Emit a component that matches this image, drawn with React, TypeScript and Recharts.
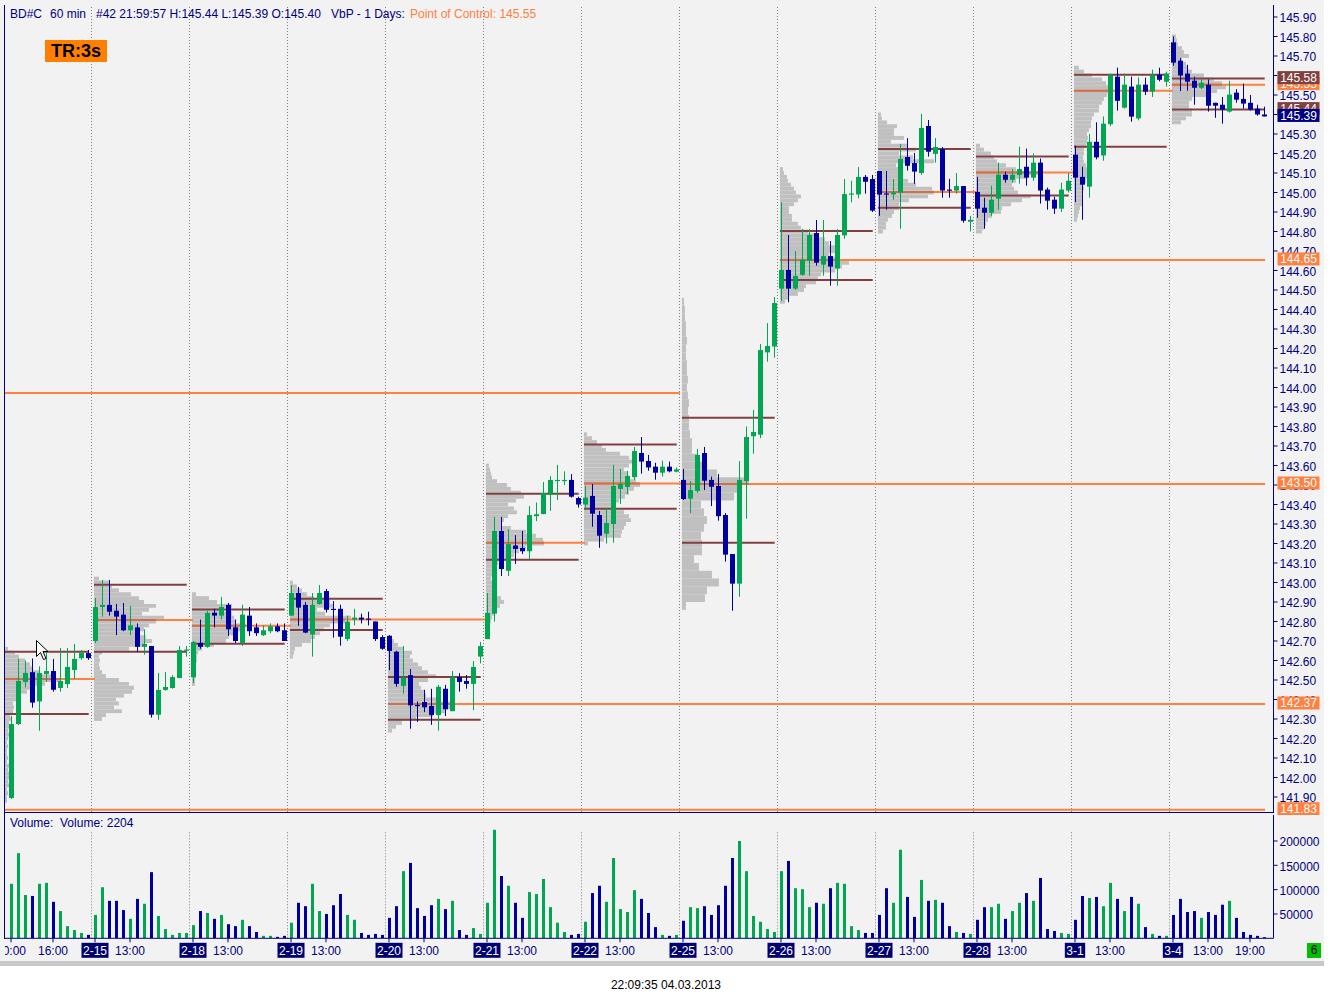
import React from 'react';
import { ComposedChart, Bar, XAxis, YAxis, ReferenceLine, ReferenceArea } from 'recharts';

const FONT = '"Liberation Sans", Arial, sans-serif';
const NAVY = '#000080';
const BOXNAVY = '#000070';
const GREEN = '#00A651';
const BLUE = '#0000A0';
const BROWN = '#804040';
const ORANGE = '#FF8040';
const POC_IN_PROFILE = '#D0704A';
const PROFILE = '#C0C0C0';
const BG = '#F2F2F2';

// ---------------- data ----------------
const dayLabels = ['2-14', '2-15', '2-18', '2-19', '2-20', '2-21', '2-22', '2-25', '2-26', '2-27', '2-28', '3-1', '3-4'];
const dayFirstHour = [10, 8, 8, 8, 8, 8, 8, 8, 8, 8, 8, 8, 8];
const dayBarCount = [12, 14, 14, 14, 14, 14, 14, 14, 14, 14, 14, 14, 14];

const opens = [
  141.895, 142.274, 142.49, 142.54, 142.39, 142.531, 142.546, 142.459, 142.479, 142.551, 142.612, 142.638,
  142.70, 142.874, 142.885, 142.855, 142.835, 142.755, 142.77, 142.67, 142.674, 142.322, 142.449, 142.459, 142.51, 142.65,
  142.514, 142.69, 142.67, 142.845, 142.83, 142.885, 142.77, 142.69, 142.83, 142.77, 142.73, 142.75, 142.775, 142.755,
  142.83, 142.946, 142.885, 142.733, 142.89, 142.956, 142.865, 142.865, 142.71, 142.81, 142.82, 142.815, 142.80, 142.72,
  142.726, 142.645, 142.47, 142.525, 142.372, 142.387, 142.367, 142.32, 142.455, 142.34, 142.515, 142.495, 142.48, 142.62,
  142.71, 142.84, 143.264, 143.06, 143.19, 143.177, 143.16, 143.34, 143.351, 143.45, 143.52, 143.52, 143.526, 143.433,
  143.40, 143.444, 143.346, 143.25, 143.30, 143.48, 143.49, 143.54, 143.664, 143.623, 143.594, 143.563, 143.594, 143.568,
  143.526, 143.43, 143.47, 143.664, 143.526, 143.495, 143.346, 143.146, 142.994, 143.52, 143.75, 143.758, 144.18, 144.21,
  144.507, 144.603, 144.507, 144.578, 144.65, 144.792, 144.63, 144.674, 144.61, 144.78, 144.99, 144.99, 145.08, 145.069,
  145.11, 144.995, 144.99, 145.0, 145.182, 145.151, 145.10, 145.341, 145.198, 145.223, 145.015, 145.01, 145.033, 144.85,
  145.003, 144.922, 144.896, 144.968, 145.091, 145.065, 145.09, 145.132, 145.076, 145.153, 145.015, 144.963, 144.917, 145.01,
  145.194, 145.08, 145.03, 145.26, 145.19, 145.35, 145.594, 145.435, 145.543, 145.38, 145.553, 145.517, 145.604, 145.568,
  145.77, 145.676, 145.61, 145.573, 145.537, 145.553, 145.46, 145.45, 145.415, 145.512, 145.48, 145.46, 145.43, 145.40,
];
const highs = [
  142.315, 142.61, 142.60, 142.61, 142.57, 142.65, 142.608, 142.664, 142.664, 142.685, 142.654, 142.654,
  142.92, 143.013, 143.013, 142.89, 142.895, 142.88, 142.79, 142.76, 142.675, 142.536, 142.54, 142.525, 142.674, 142.674,
  142.70, 142.81, 142.854, 142.865, 142.926, 142.895, 142.81, 142.886, 142.874, 142.79, 142.78, 142.79, 142.79, 142.79,
  142.987, 142.977, 142.90, 142.946, 142.987, 142.967, 142.905, 142.886, 142.83, 142.865, 142.84, 142.85, 142.80, 142.73,
  142.73, 142.65, 142.674, 142.556, 142.39, 142.45, 142.455, 142.475, 142.475, 142.546, 142.535, 142.525, 142.597, 142.695,
  142.946, 143.336, 143.336, 143.274, 143.243, 143.264, 143.392, 143.41, 143.515, 143.546, 143.603, 143.57, 143.556, 143.44,
  143.495, 143.505, 143.367, 143.382, 143.603, 143.582, 143.572, 143.695, 143.746, 143.654, 143.614, 143.625, 143.62, 143.59,
  143.582, 143.52, 143.685, 143.695, 143.543, 143.556, 143.356, 143.146, 143.623, 143.80, 143.885, 144.223, 144.33, 144.464,
  144.95, 144.782, 144.70, 144.813, 144.813, 144.859, 144.859, 144.751, 144.813, 145.069, 145.06, 145.13, 145.09, 145.09,
  145.11, 145.11, 145.069, 145.249, 145.279, 145.203, 145.403, 145.372, 145.279, 145.233, 145.07, 145.10, 145.033, 144.88,
  145.08, 144.973, 145.035, 145.153, 145.107, 145.12, 145.235, 145.225, 145.20, 145.174, 145.025, 144.978, 145.05, 145.10,
  145.24, 145.132, 145.30, 145.36, 145.39, 145.61, 145.64, 145.61, 145.594, 145.59, 145.589, 145.63, 145.64, 145.62,
  145.80, 145.69, 145.655, 145.594, 145.58, 145.58, 145.46, 145.49, 145.573, 145.53, 145.558, 145.50, 145.45, 145.44,
];
const lows = [
  141.89, 142.269, 142.463, 142.358, 142.24, 142.49, 142.44, 142.44, 142.459, 142.505, 142.603, 142.603,
  142.69, 142.825, 142.83, 142.73, 142.75, 142.73, 142.645, 142.63, 142.307, 142.296, 142.445, 142.455, 142.51, 142.62,
  142.485, 142.66, 142.665, 142.77, 142.81, 142.726, 142.69, 142.674, 142.726, 142.726, 142.726, 142.74, 142.745, 142.70,
  142.83, 142.778, 142.74, 142.62, 142.886, 142.846, 142.717, 142.676, 142.70, 142.78, 142.79, 142.78, 142.70, 142.655,
  142.55, 142.465, 142.43, 142.25, 142.285, 142.335, 142.27, 142.24, 142.315, 142.34, 142.44, 142.455, 142.345, 142.585,
  142.71, 142.80, 143.033, 143.033, 143.095, 143.146, 143.12, 143.315, 143.35, 143.367, 143.423, 143.50, 143.435, 143.384,
  143.37, 143.286, 143.178, 143.20, 143.204, 143.403, 143.454, 143.526, 143.558, 143.573, 143.527, 143.543, 143.565, 143.565,
  143.423, 143.356, 143.46, 143.474, 143.392, 143.317, 143.107, 142.855, 142.927, 143.327, 143.66, 143.74, 144.132, 144.153,
  144.444, 144.437, 144.50, 144.573, 144.573, 144.625, 144.573, 144.522, 144.522, 144.763, 144.95, 144.97, 144.994, 144.90,
  144.88, 144.912, 144.963, 144.814, 145.112, 145.045, 145.09, 145.184, 145.153, 144.973, 144.973, 144.994, 144.845, 144.80,
  144.87, 144.814, 144.88, 144.912, 145.05, 145.05, 145.045, 145.035, 145.06, 144.943, 144.912, 144.89, 144.90, 145.0,
  144.95, 144.86, 144.973, 145.17, 145.163, 145.34, 145.42, 145.43, 145.363, 145.37, 145.50, 145.49, 145.57, 145.543,
  145.65, 145.52, 145.522, 145.45, 145.53, 145.415, 145.383, 145.353, 145.41, 145.46, 145.43, 145.42, 145.394, 145.39,
];
const closes = [
  142.274, 142.495, 142.536, 142.384, 142.536, 142.546, 142.45, 142.495, 142.567, 142.608, 142.638, 142.612,
  142.874, 142.885, 142.85, 142.825, 142.755, 142.78, 142.67, 142.685, 142.322, 142.449, 142.464, 142.515, 142.654, 142.656,
  142.695, 142.67, 142.844, 142.83, 142.874, 142.76, 142.70, 142.835, 142.75, 142.74, 142.755, 142.775, 142.75, 142.70,
  142.946, 142.871, 142.743, 142.885, 142.946, 142.86, 142.86, 142.722, 142.80, 142.82, 142.81, 142.81, 142.71, 142.66,
  142.649, 142.48, 142.51, 142.37, 142.368, 142.36, 142.32, 142.465, 142.35, 142.515, 142.49, 142.48, 142.567, 142.674,
  142.844, 143.264, 143.069, 143.197, 143.172, 143.16, 143.346, 143.35, 143.459, 143.526, 143.526, 143.526, 143.44, 143.40,
  143.435, 143.353, 143.24, 143.305, 143.495, 143.505, 143.546, 143.674, 143.62, 143.59, 143.563, 143.594, 143.57, 143.58,
  143.428, 143.474, 143.654, 143.522, 143.491, 143.34, 143.143, 142.994, 143.526, 143.746, 143.772, 144.192, 144.213, 144.433,
  144.603, 144.507, 144.572, 144.654, 144.782, 144.64, 144.674, 144.62, 144.782, 144.992, 144.995, 145.08, 145.055, 144.907,
  144.989, 144.99, 145.0, 145.172, 145.137, 145.107, 145.331, 145.209, 145.233, 145.01, 145.01, 145.033, 144.855, 144.86,
  144.917, 144.896, 144.963, 145.091, 145.065, 145.091, 145.12, 145.076, 145.153, 145.01, 144.958, 144.917, 145.015, 145.06,
  145.076, 145.04, 145.26, 145.18, 145.353, 145.604, 145.47, 145.553, 145.389, 145.553, 145.517, 145.604, 145.578, 145.61,
  145.666, 145.60, 145.568, 145.537, 145.563, 145.445, 145.445, 145.425, 145.502, 145.476, 145.456, 145.425, 145.40, 145.39,
];
const volumes = [
  112000, 175000, 89000, 87000, 112000, 114000, 75000, 56000, 25000, 17000, 11000, 7000,
  48000, 105000, 77000, 77000, 58000, 40000, 81000, 71000, 136000, 46000, 19000, 7000, 11000, 11000,
  27000, 56000, 52000, 40000, 48000, 29000, 25000, 38000, 25000, 13000, 5000, 5000, 3000, 5000,
  32000, 73000, 66000, 112000, 56000, 50000, 68000, 91000, 48000, 38000, 11000, 7000, 9000, 7000,
  42000, 66000, 138000, 155000, 62000, 46000, 68000, 81000, 60000, 77000, 17000, 7000, 21000, 9000,
  73000, 223000, 128000, 108000, 73000, 42000, 95000, 91000, 122000, 64000, 32000, 13000, 7000, 9000,
  34000, 93000, 108000, 75000, 165000, 60000, 54000, 99000, 81000, 52000, 23000, 7000, 5000, 7000,
  36000, 64000, 62000, 66000, 48000, 68000, 108000, 165000, 200000, 138000, 46000, 34000, 19000, 13000,
  138000, 159000, 103000, 101000, 64000, 73000, 71000, 103000, 114000, 112000, 25000, 17000, 11000, 11000,
  48000, 103000, 73000, 182000, 85000, 44000, 120000, 77000, 79000, 73000, 25000, 13000, 11000, 9000,
  38000, 64000, 64000, 71000, 40000, 56000, 73000, 93000, 77000, 124000, 19000, 15000, 11000, 9000,
  38000, 87000, 83000, 85000, 66000, 114000, 81000, 56000, 85000, 71000, 23000, 9000, 5000, 5000,
  48000, 81000, 54000, 56000, 42000, 54000, 48000, 69000, 77000, 42000, 13000, 7000, 5000, 2204,
];

const priceTicks = [
  141.9, 142.0, 142.1, 142.2, 142.3, 142.4, 142.5, 142.6, 142.7, 142.8, 142.9,
  143.0, 143.1, 143.2, 143.3, 143.4, 143.5, 143.6, 143.7, 143.8, 143.9,
  144.0, 144.1, 144.2, 144.3, 144.4, 144.5, 144.6, 144.7, 144.8, 144.9,
  145.0, 145.1, 145.2, 145.3, 145.4, 145.5, 145.6, 145.7, 145.8, 145.9,
];
const volumeTicks = [50000, 100000, 150000, 200000];

// Volume-by-price (1 day) levels per day
const vaHighs = [142.645, 142.989, 142.862, 142.917, 142.515, 143.455, 143.707, 143.845, 144.803, 145.223, 145.184, 145.604, 145.584];
const pocs = [142.505, 142.808, 142.778, 142.81, 142.377, 143.204, 143.507, 143.505, 144.654, 145.003, 145.102, 145.522, 145.553];
const vaLows = [142.326, 142.645, 142.686, 142.756, 142.296, 143.117, 143.378, 143.204, 144.551, 144.922, 144.984, 145.235, 145.425];
const pocEndBars = [12, 26, 40, 68, 179.15, 82, 96, 179.15, 179.15, 138, 152, 166, 179.15];
const priorLevels = [143.972, 141.835];
const priorLevelEndBars = [95.55, 179.15];

// volume profile rows: lowest price, row step, volume at price (k)
const profileLows = [141.88, 142.30, 142.48, 142.62, 142.24, 142.78, 143.20, 142.88, 144.44, 144.80, 144.80, 144.86, 145.36];
const profileSteps = [0.02, 0.02, 0.02, 0.02, 0.02, 0.02, 0.02, 0.04, 0.02, 0.02, 0.02, 0.02, 0.02];
const profileVolumes = [
  [2, 2, 3, 2, 4, 3, 4, 5, 3, 4, 2, 3, 2, 2, 3, 2, 3, 4, 3, 5, 4, 6, 5, 8, 9, 8, 12, 15, 22, 30, 40, 55, 50, 35, 28, 25, 20, 14, 10, 3],
  [8, 12, 28, 20, 25, 22, 30, 38, 40, 35, 25, 12, 8, 6, 5, 6, 5, 8, 35, 50, 58, 52, 45, 50, 55, 62, 70, 48, 55, 62, 50, 45, 37, 25, 18, 15, 5],
  [3, 3, 4, 3, 4, 3, 5, 5, 6, 10, 22, 34, 37, 45, 50, 54, 44, 42, 40, 29, 40, 25, 17, 4],
  [3, 4, 5, 12, 21, 25, 30, 34, 40, 55, 61, 35, 27, 44, 40, 24, 17, 12, 7, 3],
  [4, 8, 14, 28, 45, 58, 62, 66, 50, 38, 36, 33, 31, 40, 48, 40, 34, 30, 25, 22, 24, 16, 10, 6, 4],
  [4, 5, 6, 8, 10, 14, 18, 15, 10, 8, 7, 6, 5, 6, 6, 8, 12, 20, 28, 33, 40, 58, 57, 50, 40, 25, 15, 18, 22, 31, 28, 22, 30, 38, 35, 25, 21, 11, 6, 5, 4, 3],
  [4, 20, 37, 38, 40, 42, 47, 45, 40, 32, 30, 35, 41, 45, 50, 56, 52, 45, 43, 40, 45, 52, 45, 36, 22, 18, 13, 8, 3],
  [4, 23, 25, 37, 30, 17, 12, 20, 20, 19, 22, 25, 22, 19, 52, 60, 67, 35, 25, 15, 10, 10, 8, 7, 7, 6, 7, 6, 5, 6, 5, 5, 4, 4, 5, 4, 4, 3, 3, 2],
  [5, 8, 18, 24, 26, 36, 38, 41, 55, 62, 69, 60, 49, 59, 55, 49, 45, 39, 28, 21, 18, 12, 12, 9, 9, 14, 18, 21, 16, 14, 11, 8, 7, 4, 3],
  [5, 8, 8, 10, 14, 16, 21, 21, 31, 50, 56, 54, 38, 30, 21, 21, 20, 18, 56, 35, 21, 38, 30, 13, 26, 16, 16, 19, 9, 4, 3],
  [6, 8, 10, 12, 16, 25, 26, 35, 46, 55, 42, 38, 36, 40, 50, 63, 40, 30, 21, 18, 15, 8, 4],
  [3, 4, 5, 6, 8, 8, 9, 8, 10, 9, 12, 13, 14, 13, 12, 10, 9, 10, 10, 12, 13, 14, 13, 15, 17, 17, 18, 20, 25, 25, 28, 30, 33, 38, 34, 32, 28, 18, 10, 5],
  [9, 14, 20, 20, 17, 17, 20, 35, 45, 54, 50, 42, 32, 20, 16, 14, 10, 17, 12, 10, 6, 5, 4],
];

// price tags at the right axis
const tagPrices = [145.553, 145.584, 145.425, 145.39, 144.654, 143.505, 142.377, 141.835];
const tagLabels = ['145.55', '145.58', '145.44', '145.39', '144.65', '143.50', '142.37', '141.83'];
const tagKinds = ['poc', 'va', 'va', 'last', 'poc', 'poc', 'poc', 'poc'];

// ---------------- derived ----------------
const dayStarts: number[] = [];
{
  let acc = 0;
  dayBarCount.forEach((n) => { dayStarts.push(acc); acc += n; });
}
const dayOfBar: number[] = [];
dayBarCount.forEach((n, d) => { for (let k = 0; k < n; k++) dayOfBar.push(d); });

const rows = opens.map((o, i) => ({
  i,
  o,
  h: highs[i],
  l: lows[i],
  c: closes[i],
  v: volumes[i],
  range: [lows[i], highs[i]],
}));

const xTicks: number[] = [0, 6];
for (let d = 1; d < dayLabels.length; d++) { xTicks.push(dayStarts[d], dayStarts[d] + 5); }
xTicks.push(dayStarts[12] + 11);

// layout constants
const SVG_LEFT = 5;
const SVG_W = 1327;
const PAD_L = 2.5;
const PAD_R = 6;
const AXIS_W = 58;
const NMIN = -6 / 7;
const NMAX = 1262.5 / 7;
const PRICE_DOMAIN: [number, number] = [141.823, 145.9615];
const VOL_DOMAIN: [number, number] = [0, 253400];
const LEFT_EDGE = NMIN;

const tagColor = (k: string) => (k === 'poc' ? ORANGE : k === 'va' ? BROWN : NAVY);

// ---------------- shapes ----------------
function Candle(props: any) {
  const { x, y, width, height, payload } = props;
  if (x == null || !payload) return null;
  const top = Math.min(y, y + height);
  const h = Math.abs(height);
  const span = payload.h - payload.l || 1e-9;
  const toY = (v: number) => top + ((payload.h - v) / span) * h;
  const cx = Math.round(x + width / 2);
  const up = payload.c >= payload.o;
  const col = up ? GREEN : BLUE;
  const yo = toY(payload.o);
  const yc = toY(payload.c);
  const bt = Math.min(yo, yc);
  const bh = Math.max(1.2, Math.abs(yo - yc));
  return (
    <g>
      <line x1={cx + 0.5} x2={cx + 0.5} y1={top} y2={top + h} stroke={col} strokeWidth={1} />
      <rect x={cx - 2} y={bt} width={5} height={bh} fill={col} />
    </g>
  );
}

function VolBar(props: any) {
  const { x, y, width, height, payload } = props;
  if (x == null || !payload) return null;
  const top = Math.min(y, y + height);
  const h = Math.max(1, Math.abs(height));
  const cx = Math.round(x + width / 2);
  const col = payload.c >= payload.o ? GREEN : BLUE;
  return <rect x={cx - 1} y={top} width={3} height={h} fill={col} />;
}

function TagLabel(props: any) {
  const vb = props.viewBox || {};
  const x = vb.x + vb.width + 4;
  const yc = vb.y - 1;
  return (
    <g>
      <rect x={x} y={yc - 6.5} width={42} height={13} fill={props.bg} />
      <text x={x + 21} y={yc + 4.3} textAnchor="middle" fill="#FFFFFF" fontSize={12} fontFamily={FONT}>
        {props.text}
      </text>
    </g>
  );
}

function AxisTick(props: any) {
  const { x, y, payload, fmt } = props;
  return (
    <text x={x} y={y + 5.3} textAnchor="start" fill={NAVY} fontSize={12} fontFamily={FONT}>
      {fmt ? fmt(payload.value) : String(payload.value)}
    </text>
  );
}

const textWidth = (s: string) => s.split('').reduce((a, ch) => a + (ch === '-' ? 4 : ch === ':' ? 3.3 : 6.67), 0);

function XTick(props: any) {
  const { x, y, payload } = props;
  const i = payload.value as number;
  const d = dayOfBar[i];
  const isStart = d > 0 && i === dayStarts[d];
  if (isStart) {
    const t = dayLabels[d];
    const w = textWidth(t) + 3;
    return (
      <g>
        <rect x={x - w / 2} y={y + 0.5} width={w} height={15} fill={BOXNAVY} />
        <text x={x} y={y + 12.3} textAnchor="middle" fill="#FFFFFF" fontSize={12} fontFamily={FONT}>{t}</text>
      </g>
    );
  }
  const hour = dayFirstHour[d] + (i - dayStarts[d]);
  return (
    <text x={x} y={y + 12.3} textAnchor="middle" fill={NAVY} fontSize={12} fontFamily={FONT}>{`${hour}:00`}</text>
  );
}

// ---------------- chart layers ----------------
const priceMargin = { top: 5, right: 0.5, bottom: 3, left: 0 };

function axesPrice(visible: boolean) {
  return [
    <XAxis key="xc" dataKey="i" type="category" hide padding={{ left: PAD_L, right: PAD_R }} />,
    <XAxis key="xn" xAxisId="n" dataKey="i" type="number" hide domain={[NMIN, NMAX]} allowDataOverflow />,
    <YAxis
      key="y"
      orientation="right"
      domain={PRICE_DOMAIN}
      allowDataOverflow
      ticks={priceTicks}
      interval={0}
      width={AXIS_W}
      tick={visible ? <AxisTick fmt={(v: number) => v.toFixed(2)} /> : false}
      axisLine={visible ? { stroke: NAVY } : false}
      tickLine={visible ? { stroke: NAVY } : false}
      tickSize={4}
      tickMargin={2}
    />,
  ];
}

function PriceUnderlay() {
  const seps = dayStarts.slice(1).map((s, k) => (
    <ReferenceLine key={`sep${k}`} xAxisId="n" x={s - 0.5} stroke="#808080" strokeDasharray="1 2" ifOverflow="visible" />
  ));
  const areas: React.ReactNode[] = [];
  const pocWidths: number[] = [];
  profileVolumes.forEach((vals, d) => {
    const left = d === 0 ? LEFT_EDGE : dayStarts[d] - 0.15;
    const step = profileSteps[d];
    let best = 0;
    let bestDist = Infinity;
    vals.forEach((v, r) => {
      const p = profileLows[d] + r * step;
      const dist = Math.abs(p - pocs[d]);
      if (dist < bestDist) { bestDist = dist; best = v; }
      areas.push(
        <ReferenceArea
          key={`pf${d}-${r}`}
          xAxisId="n"
          x1={left}
          x2={left + v / 7}
          y1={p - step / 2}
          y2={p + step / 2}
          fill={PROFILE}
          fillOpacity={1}
          stroke="none"
          ifOverflow="visible"
        />
      );
    });
    pocWidths.push(best);
  });
  const lines: React.ReactNode[] = [];
  priorLevels.forEach((p, k) => {
    lines.push(
      <ReferenceLine key={`pl${k}`} xAxisId="n" segment={[{ x: LEFT_EDGE, y: p }, { x: priorLevelEndBars[k], y: p }]} stroke={ORANGE} strokeWidth={2} ifOverflow="visible" />
    );
  });
  dayLabels.forEach((_, d) => {
    const start = d === 0 ? LEFT_EDGE : dayStarts[d] - 0.15;
    const end = dayStarts[d] + dayBarCount[d] - 1 + 0.1;
    lines.push(
      <ReferenceLine key={`poc${d}`} xAxisId="n" segment={[{ x: start, y: pocs[d] }, { x: pocEndBars[d], y: pocs[d] }]} stroke={ORANGE} strokeWidth={2} ifOverflow="visible" />,
      <ReferenceLine key={`pocin${d}`} xAxisId="n" segment={[{ x: start, y: pocs[d] }, { x: start + pocWidths[d] / 7, y: pocs[d] }]} stroke={POC_IN_PROFILE} strokeWidth={2} ifOverflow="visible" />,
      <ReferenceLine key={`vah${d}`} xAxisId="n" segment={[{ x: start, y: vaHighs[d] }, { x: end, y: vaHighs[d] }]} stroke={BROWN} strokeWidth={2} ifOverflow="visible" />,
      <ReferenceLine key={`val${d}`} xAxisId="n" segment={[{ x: start, y: vaLows[d] }, { x: end, y: vaLows[d] }]} stroke={BROWN} strokeWidth={2} ifOverflow="visible" />
    );
  });
  return (
    <ComposedChart width={SVG_W} height={815} data={rows} margin={priceMargin}>
      {axesPrice(true)}
      {seps}
      {areas}
      {lines}
    </ComposedChart>
  );
}

function PriceOverlay() {
  return (
    <ComposedChart width={SVG_W} height={815} data={rows} margin={priceMargin} barCategoryGap={0}>
      {axesPrice(false)}
      <Bar dataKey="range" shape={<Candle />} isAnimationActive={false} />
      {tagPrices.map((p, k) => (
        <ReferenceLine
          key={`tag${k}`}
          y={p}
          stroke="none"
          label={<TagLabel text={tagLabels[k]} bg={tagColor(tagKinds[k])} />}
        />
      ))}
    </ComposedChart>
  );
}

function VolumeChart() {
  return (
    <ComposedChart width={SVG_W} height={150} data={rows} margin={{ top: 5, right: 0.5, bottom: 0, left: 0 }} barCategoryGap={0}>
      <XAxis
        dataKey="i"
        type="category"
        padding={{ left: PAD_L, right: PAD_R }}
        height={21.7}
        ticks={xTicks}
        interval={0}
        tick={<XTick />}
        axisLine={{ stroke: NAVY }}
        tickLine={{ stroke: NAVY }}
        tickSize={4}
        tickMargin={0}
      />
      <XAxis xAxisId="n" dataKey="i" type="number" hide domain={[NMIN, NMAX]} allowDataOverflow />
      <YAxis
        orientation="right"
        domain={VOL_DOMAIN}
        allowDataOverflow
        ticks={volumeTicks}
        interval={0}
        width={AXIS_W}
        tick={<AxisTick />}
        axisLine={{ stroke: NAVY }}
        tickLine={{ stroke: NAVY }}
        tickSize={4}
        tickMargin={2}
      />
      {dayStarts.slice(1).map((s, k) => (
        <ReferenceLine key={`vsep${k}`} xAxisId="n" segment={[{ x: s - 0.5, y: 0 }, { x: s - 0.5, y: 222000 }]} stroke="#808080" strokeDasharray="1 2" ifOverflow="visible" />
      ))}
      <Bar dataKey="v" shape={<VolBar />} isAnimationActive={false} />
    </ComposedChart>
  );
}

export default function App() {
  const abs = (l: number, t: number): React.CSSProperties => ({ position: 'absolute', left: l, top: t });
  const txt: React.CSSProperties = { fontFamily: FONT, fontSize: 12, lineHeight: '14px', whiteSpace: 'nowrap' };
  return (
    <div style={{ position: 'absolute', left: 0, top: 0, width: 1332, height: 1001, background: '#FFFFFF', overflow: 'hidden', fontFamily: FONT }}>
      <div style={{ ...abs(0, 0), width: 1324, height: 961, background: BG }} />
      <div style={{ ...abs(0, 961), width: 1324, height: 5, background: '#C8C8C8' }} />
      <div style={{ ...abs(4, 5), width: 1, height: 934, background: NAVY }} />
      <div style={{ ...abs(5, 812), width: 1269, height: 1, background: NAVY }} />
      <div style={abs(SVG_LEFT, 0)}><PriceUnderlay /></div>
      <div style={abs(SVG_LEFT, 0)}><PriceOverlay /></div>
      <div style={abs(SVG_LEFT, 810)}><VolumeChart /></div>

      <div style={{ ...abs(10, 7), ...txt, color: NAVY }}>BD#C</div>
      <div style={{ ...abs(50, 7), ...txt, color: NAVY }}>60 min</div>
      <div style={{ ...abs(96, 7), ...txt, color: NAVY }}>#42 21:59:57 H:145.44 L:145.39 O:145.40</div>
      <div style={{ ...abs(331, 7), ...txt, color: NAVY }}>VbP - 1 Days:</div>
      <div style={{ ...abs(410, 7), ...txt, color: ORANGE }}>Point of Control: 145.55</div>

      <div style={{ ...abs(45, 40), width: 62, height: 22, background: '#FF8000', color: '#000', fontFamily: FONT, fontWeight: 'bold', fontSize: 18, lineHeight: '22px', textAlign: 'center' }}>TR:3s</div>

      <div style={{ ...abs(10, 816), ...txt, color: NAVY }}>Volume:&nbsp; Volume: 2204</div>

      <div style={{ ...abs(1307, 943), width: 14, height: 15, background: '#00C000', color: '#000', fontFamily: FONT, fontSize: 12, lineHeight: '15px', textAlign: 'center' }}>6</div>

      <div style={{ ...abs(0, 978), width: 1332, textAlign: 'center', ...txt, color: '#000' }}>22:09:35 04.03.2013</div>

      <svg style={abs(36, 640)} width={14} height={22}>
        <path d="M0.5,0.5 L0.5,16.5 L4.5,12.5 L7.5,19.5 L10,18.5 L7,11.5 L12,11.5 Z" fill="#FFFFFF" stroke="#000000" strokeWidth={1} />
      </svg>
    </div>
  );
}
